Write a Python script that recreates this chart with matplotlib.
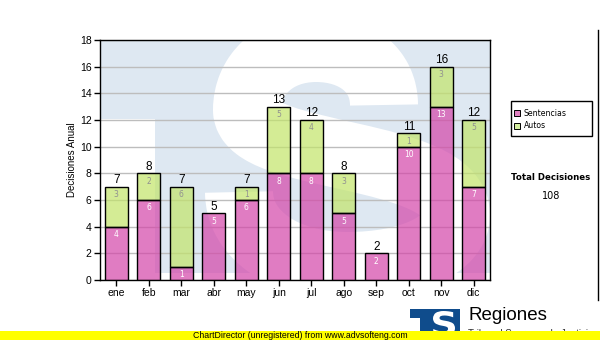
import matplotlib
matplotlib.use("Agg")
import matplotlib.pyplot as plt
import numpy as np
from matplotlib.patches import Rectangle, PathPatch
from matplotlib.path import Path
from matplotlib.textpath import TextPath
from matplotlib.font_manager import FontProperties
from matplotlib.transforms import Affine2D

# monthly decisions, split by type
meses = ['ene', 'feb', 'mar', 'abr', 'may', 'jun', 'jul', 'ago', 'sep', 'oct', 'nov', 'dic']
sentencias = [4, 6, 1, 5, 6, 8, 8, 5, 2, 10, 13, 7]
autos = [3, 2, 6, 0, 1, 5, 4, 3, 0, 1, 3, 5]
total_decisiones = 108

W, H = 600, 340
fig = plt.figure(figsize=(W / 100, H / 100), dpi=100)
fig.patch.set_facecolor('white')

# background layer in pixel coordinates (watermark, logo, footer)
bg = fig.add_axes([0, 0, 1, 1], zorder=0)
bg.set_xlim(0, W)
bg.set_ylim(H, 0)
bg.axis('off')

# plot area in pixels
PL, PR, PT, PB = 100, 490, 40, 280

wm_blue = '#dee8f2'
bg.add_patch(Rectangle((PL, PT), PR - PL, 273 - PT, color=wm_blue, lw=0))
bg.add_patch(Rectangle((PL, 119), 55, PB - 119, color='white', lw=0))

# big "S" of the watermark as a thick stroked curve
C = Path.CURVE4
s_verts = [(384, 105),
           (384, 70), (355, 48), (316, 48),
           (275, 48), (247, 75), (247, 110),
           (247, 160), (456, 150), (456, 215),
           (456, 245), (410, 266), (347, 266),
           (285, 266), (239, 235), (239, 192)]
s_codes = [Path.MOVETO] + [C] * 15
s_mark = PathPatch(Path(s_verts, s_codes), facecolor='none', edgecolor='white',
                   lw=68 * 72 / 100, capstyle='butt', joinstyle='round')
s_mark.set_clip_path(Rectangle((PL, PT), PR - PL, PB - PT, transform=bg.transData))
bg.add_patch(s_mark)


def letter_patch(ch, x0, y0, x1, y1, color, **kw):
    tp = TextPath((0, 0), ch, prop=FontProperties(family='DejaVu Sans', weight='bold'), size=1)
    ext = tp.get_extents()
    tr = (Affine2D().translate(-ext.x0, -ext.y0)
          .scale((x1 - x0) / ext.width, -(y1 - y0) / ext.height)
          .translate(x0, y1))
    return PathPatch(tr.transform_path(tp), color=color, lw=0, **kw)


# logo at the bottom
logo_blue = '#0f4c8c'
bg.add_patch(Rectangle((410, 309), 50, 26, color=logo_blue, lw=0, zorder=2))
bg.add_patch(Rectangle((410, 318), 10, 20, color='white', lw=0, zorder=2))
bg.add_patch(letter_patch('S', 433, 311, 455, 336, 'white', zorder=3))
bg.text(468, 316, 'Regiones', fontsize=13.5, family='Liberation Sans',
        va='center', ha='left', color='black')
bg.text(468, 334, 'Tribunal Supremo de Justicia', fontsize=7, family='Liberation Sans',
        va='center', ha='left', color='#333333')

# footer strip
bg.add_patch(Rectangle((0, 330.5), W, 10, color='#ffff00', lw=0, zorder=5))
bg.text(300, 335.5, 'ChartDirector (unregistered) from www.advsofteng.com',
        fontsize=6.3, family='Liberation Sans', ha='center', va='center', zorder=6)

# right border line
bg.plot([598, 598], [30, 300], color='black', lw=1)

# main chart
ax = fig.add_axes([PL / W, 1 - PB / H, (PR - PL) / W, (PB - PT) / H], zorder=1)
ax.set_facecolor('none')

x = np.arange(len(meses))
tot = np.array(sentencias) + np.array(autos)
pink = '#d445a9'
green = '#c2e469'
ax.bar(x, sentencias, width=0.7, color=pink, alpha=0.7, zorder=3)
ax.bar(x, sentencias, width=0.7, fill=False, edgecolor='black', lw=1, zorder=4)
aut_bars = [a if a > 0 else np.nan for a in autos]
ax.bar(x, aut_bars, bottom=sentencias, width=0.7, color=green, alpha=0.7, zorder=3)
ax.bar(x, aut_bars, bottom=sentencias, width=0.7, fill=False, edgecolor='black', lw=1, zorder=4)

for i in range(len(meses)):
    ax.annotate(str(tot[i]), (x[i], tot[i]), xytext=(0, 0.5), textcoords='offset points',
                ha='center', va='bottom', fontsize=8.5, family='Liberation Sans', zorder=5)
    ax.annotate(str(sentencias[i]), (x[i], sentencias[i]), xytext=(0, -2.5),
                textcoords='offset points', ha='center', va='top', fontsize=5.5,
                color='white', zorder=5)
    if autos[i] > 0:
        ax.annotate(str(autos[i]), (x[i], tot[i]), xytext=(0, -2.5),
                    textcoords='offset points', ha='center', va='top', fontsize=5.5,
                    color='#909090', zorder=5)

ax.set_xlim(-0.5, len(meses) - 0.5)
ax.set_ylim(0, 18)
ax.set_yticks(range(0, 19, 2))
ax.set_xticks(x)
ax.set_xticklabels(meses)
ax.grid(axis='y', color='#bdbdbd', lw=1, zorder=1)
ax.set_axisbelow(True)
for sp in ax.spines.values():
    sp.set_color('black')
    sp.set_linewidth(1)
ax.tick_params(axis='both', direction='out', length=4, width=1, labelsize=7.5, pad=2)
for lbl in ax.get_xticklabels() + ax.get_yticklabels():
    lbl.set_family('Liberation Sans')
ax.set_ylabel('Decisiones Anual', fontsize=7, family='Liberation Sans', labelpad=2)

# legend box
bg.add_patch(Rectangle((510.5, 100.5), 81, 35, fill=False, edgecolor='black', lw=1, zorder=2))
for yy, txt, col in [(113, 'Sentencias', '#e080c0'), (126, 'Autos', '#d4eea0')]:
    bg.add_patch(Rectangle((514, yy - 3), 6, 6, facecolor=col, edgecolor='black', lw=0.7, zorder=2))
    bg.text(524, yy, txt, fontsize=5.6, family='DejaVu Sans', va='center', ha='left')

bg.text(551, 177, 'Total Decisiones', fontsize=6.2, weight='bold', family='DejaVu Sans',
        ha='center', va='center')
bg.text(551, 196, str(total_decisiones), fontsize=7, family='DejaVu Sans',
        ha='center', va='center')

fig.savefig('out.png', dpi=100)
